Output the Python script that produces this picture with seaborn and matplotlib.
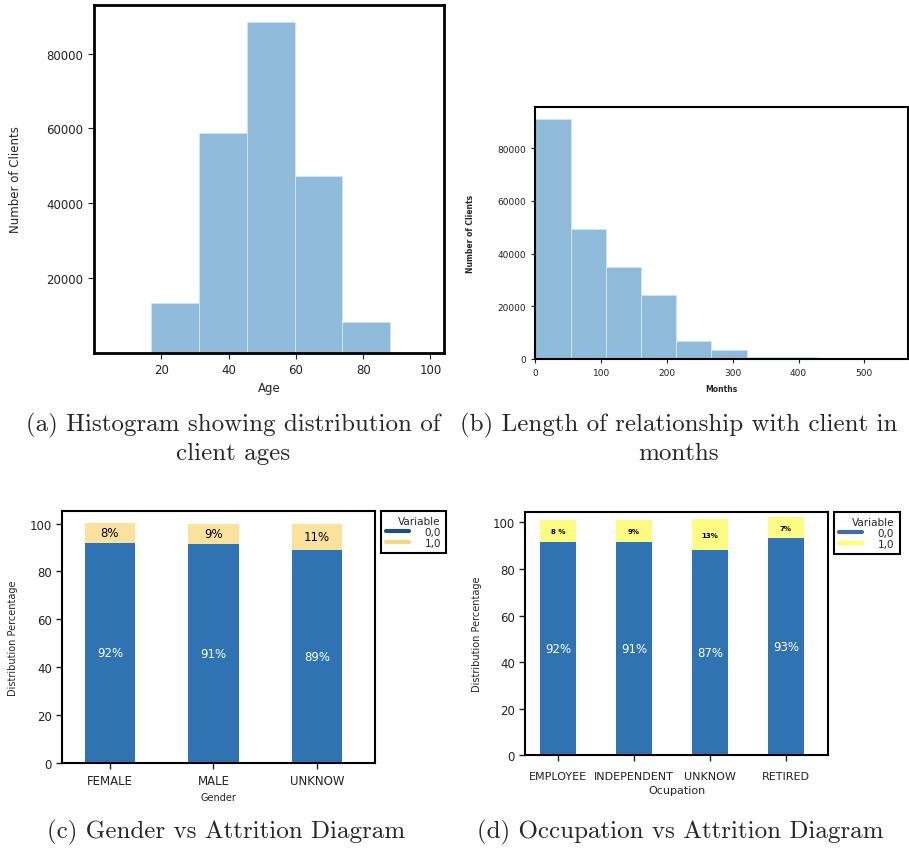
import matplotlib
matplotlib.use("Agg")
import matplotlib.pyplot as plt
from matplotlib.lines import Line2D
import seaborn as sns
import numpy as np
import pandas as pd

# ---------------- data ----------------
age_edges = [17, 31.2, 45.4, 59.6, 73.8, 88]
age_counts = [13300, 58900, 88400, 47300, 8300]

month_edges = [0, 53.5, 107, 160.5, 214, 267.5, 321, 374.5, 428, 481.5, 535]
month_counts = [91200, 49500, 34900, 24400, 6900, 3400, 900, 900, 100, 50]

gender_cats = ["FEMALE", "MALE", "UNKNOW"]
gender_0 = [92, 91.5, 89]
gender_1 = [8.3, 8.5, 10.9]
gender_lab0 = ["92%", "91%", "89%"]
gender_lab1 = ["8%", "9%", "11%"]

occ_cats = ["EMPLOYEE", "INDEPENDENT", "UNKNOW", "RETIRED"]
occ_0 = [91.7, 91.4, 88.1, 93.1]
occ_1 = [9.3, 9.6, 13.2, 9.1]
occ_lab0 = ["92%", "91%", "87%", "93%"]
occ_lab1 = ["8 %", "9%", "13%", "7%"]

legend_labels = ["0,0", "1,0"]

# ---------------- style ----------------
sns.set_style("ticks")
plt.rcParams["font.family"] = ["DejaVu Sans"]

HIST = "#8fbad9"
BLUE = "#2f73b3"
YEL_C = "#fbe29c"
YEL_D = "#fdfb82"

fig = plt.figure(figsize=(9.09, 8.53), dpi=100)

def box(ax, lw):
    for s in ax.spines.values():
        s.set_visible(True)
        s.set_linewidth(lw)
        s.set_color("black")

# ---------------- (a) ----------------
ax_a = fig.add_axes([0.1034, 0.585, 0.385, 0.408])
centers_a = [(age_edges[i] + age_edges[i + 1]) / 2 for i in range(len(age_counts))]
sns.histplot(x=centers_a, weights=age_counts, bins=age_edges, ax=ax_a,
             color=HIST, alpha=1, edgecolor="#d3e5f2", linewidth=0.6)
ax_a.set_xlim(0, 104)
ax_a.set_ylim(0, 93000)
ax_a.set_xticks([20, 40, 60, 80, 100])
ax_a.set_yticks([20000, 40000, 60000, 80000])
ax_a.tick_params(labelsize=8.5, length=4, width=0.8, colors="#222222")
ax_a.set_xlabel("Age", fontsize=8.5, labelpad=3)
ax_a.set_ylabel("Number of Clients", fontsize=8.5, labelpad=18)
box(ax_a, 2)

# ---------------- (b) ----------------
ax_b = fig.add_axes([0.589, 0.578, 0.4097, 0.2958])
centers_b = [(month_edges[i] + month_edges[i + 1]) / 2 for i in range(len(month_counts))]
sns.histplot(x=centers_b, weights=month_counts, bins=month_edges, ax=ax_b,
             color=HIST, alpha=1, edgecolor="#d3e5f2", linewidth=0.6)
ax_b.set_xlim(0, 566)
ax_b.set_ylim(0, 95800)
ax_b.set_xticks([0, 100, 200, 300, 400, 500])
ax_b.set_yticks([0, 20000, 40000, 60000, 80000])
ax_b.tick_params(labelsize=6.5, length=3, width=0.8, colors="#222222")
ax_b.set_xlabel("Months", fontsize=5.5, fontweight="bold", labelpad=5)
ax_b.set_ylabel("Number of Clients", fontsize=5.5, fontweight="bold", labelpad=16)
box(ax_b, 1.5)


def stacked(ax, cats, v0, v1, lab0, lab1, ycol, lab1_size, lab1_weight, width):
    df = pd.DataFrame({"cat": cats, "v0": v0, "v1": v1})
    df["total"] = df["v0"] + df["v1"]
    sns.barplot(data=df, x="cat", y="total", color=ycol, saturation=1,
                width=width, ax=ax, edgecolor="none")
    sns.barplot(data=df, x="cat", y="v0", color=BLUE, saturation=1,
                width=width, ax=ax, edgecolor="none")
    for i in range(len(cats)):
        ax.text(i, v0[i] / 2, lab0[i], ha="center", va="center",
                color="white", fontsize=8.5)
        ax.text(i, v0[i] + v1[i] / 2, lab1[i], ha="center", va="center",
                color="black", fontsize=lab1_size, fontweight=lab1_weight)


def make_legend(ax, colors, xanchor):
    handles = [Line2D([], [], color=c, lw=3) for c in colors]
    leg = ax.legend(handles, legend_labels, title="Variable", loc="upper left",
                    bbox_to_anchor=(xanchor, 1.0), fontsize=7.5, title_fontsize=7.5,
                    frameon=True, fancybox=False, framealpha=1, edgecolor="black",
                    borderpad=0.5, labelspacing=0.1, handlelength=2.2,
                    handletextpad=1.5, borderaxespad=0)
    leg.get_frame().set_linewidth(1.5)
    leg._legend_box.align = "right"
    return leg


# ---------------- (c) ----------------
ax_c = fig.add_axes([0.0685, 0.104, 0.344, 0.296])
stacked(ax_c, gender_cats, gender_0, gender_1, gender_lab0, gender_lab1,
        YEL_C, 8.5, "normal", 0.49)
ax_c.set_xlim(-0.46, 2.56)
ax_c.set_ylim(0, 105.3)
ax_c.set_yticks([0, 20, 40, 60, 80, 100])
ax_c.tick_params(labelsize=8.5, length=4, width=1, colors="#222222")
ax_c.set_xlabel("Gender", fontsize=7, labelpad=4)
ax_c.set_ylabel("Distribution Percentage", fontsize=7, labelpad=8)
box(ax_c, 1.5)
make_legend(ax_c, ["#1f4e79", "#f6d97e"], 1.018)

# ---------------- (d) ----------------
ax_d = fig.add_axes([0.5779, 0.1134, 0.3327, 0.2856])
stacked(ax_d, occ_cats, occ_0, occ_1, occ_lab0, occ_lab1,
        YEL_D, 5, "bold", 0.47)
ax_d.set_xlim(-0.43, 3.55)
ax_d.set_ylim(0, 104.6)
ax_d.set_yticks([0, 20, 40, 60, 80, 100])
ax_d.tick_params(labelsize=8.5, length=4, width=1, colors="#222222")
ax_d.tick_params(axis="x", labelsize=8, pad=7)
ax_d.set_xlabel("Ocupation", fontsize=8, labelpad=3)
ax_d.set_ylabel("Distribution Percentage", fontsize=7, labelpad=8)
box(ax_d, 1.5)
make_legend(ax_d, ["#3a6f9f", "#ffff66"], 1.021)

# ---------------- captions ----------------
cap = dict(ha="center", va="center", fontsize=18, family="cmr10")
fig.text(233.5 / 909, 1 - 425 / 853, "(a) Histogram showing distribution of", **cap)
fig.text(233.5 / 909, 1 - 454 / 853, "client ages", **cap)
fig.text(679 / 909, 1 - 425 / 853, "(b) Length of relationship with client in", **cap)
fig.text(679 / 909, 1 - 454 / 853, "months", **cap)
fig.text(226 / 909, 1 - 832 / 853, "(c) Gender vs Attrition Diagram", **cap)
fig.text(680 / 909, 1 - 832 / 853, "(d) Occupation vs Attrition Diagram", **cap)

fig.savefig("out.png", dpi=100)
